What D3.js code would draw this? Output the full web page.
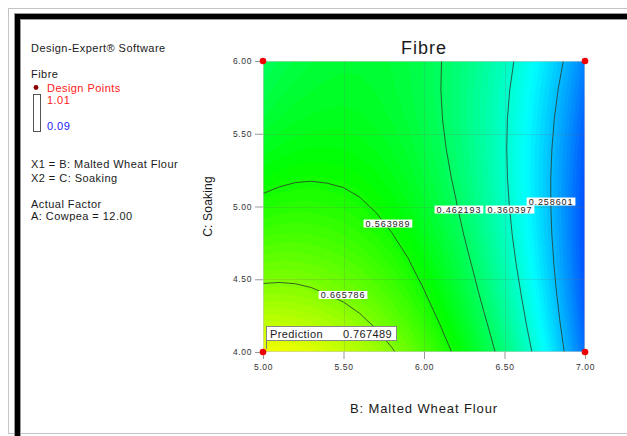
<!DOCTYPE html>
<html>
<head>
<meta charset="utf-8">
<script src="https://cdn.jsdelivr.net/npm/d3@7"></script>
<style>
  html, body { margin: 0; padding: 0; background: #fff; }
  svg { display: block; font-family: Arial, "Liberation Sans", sans-serif; }
</style>
</head>
<body>
<svg id="chart" width="627" height="436"></svg>
<script>
// ---- data -------------------------------------------------------------
// B: Malted Wheat Flour levels (grid columns)
const flour = [5.0, 5.1, 5.2, 5.3, 5.4, 5.5, 5.6, 5.7, 5.8, 5.9, 6.0,
               6.1, 6.2, 6.3, 6.4, 6.5, 6.6, 6.7, 6.8, 6.9, 7.0];
// C: Soaking levels (grid rows, bottom to top)
const soaking = [4.0, 4.2, 4.4, 4.6, 4.8, 5.0, 5.2, 5.4, 5.6, 5.8, 6.0];
// Predicted fibre over the grid, one row per soaking level (A: Cowpea = 12.00)
const fibreGrid = [
  [0.7686,0.7662,0.7609,0.7529,0.7420,0.7284,0.7120,0.6927,0.6707,0.6458,0.6182,0.5878,0.5545,0.5185,0.4796,0.4380,0.3936,0.3463,0.2963,0.2434,0.1878],
  [0.7223,0.7214,0.7178,0.7113,0.7021,0.6907,0.6765,0.6596,0.6398,0.6173,0.5912,0.5623,0.5307,0.4962,0.4590,0.4189,0.3760,0.3304,0.2819,0.2307,0.1766],
  [0.6789,0.6796,0.6775,0.6727,0.6650,0.6559,0.6440,0.6293,0.6119,0.5916,0.5671,0.5398,0.5097,0.4769,0.4412,0.4027,0.3614,0.3173,0.2705,0.2208,0.1683],
  [0.6419,0.6442,0.6437,0.6404,0.6343,0.6268,0.6165,0.6034,0.5875,0.5688,0.5459,0.5202,0.4917,0.4604,0.4263,0.3894,0.3497,0.3072,0.2619,0.2138,0.1629],
  [0.6077,0.6116,0.6127,0.6109,0.6064,0.6005,0.5918,0.5803,0.5659,0.5488,0.5275,0.5034,0.4765,0.4467,0.4142,0.3789,0.3408,0.2999,0.2561,0.2096,0.1603],
  [0.5765,0.5820,0.5846,0.5845,0.5815,0.5772,0.5701,0.5601,0.5474,0.5318,0.5121,0.4896,0.4642,0.4361,0.4051,0.3714,0.3349,0.2955,0.2534,0.2084,0.1607],
  [0.5482,0.5552,0.5595,0.5609,0.5596,0.5568,0.5512,0.5429,0.5317,0.5178,0.4996,0.4786,0.4549,0.4283,0.3990,0.3668,0.3318,0.2941,0.2535,0.2102,0.1640],
  [0.5227,0.5313,0.5371,0.5402,0.5404,0.5392,0.5352,0.5284,0.5189,0.5065,0.4899,0.4705,0.4483,0.4234,0.3956,0.3650,0.3316,0.2954,0.2565,0.2147,0.1701],
  [0.5001,0.5103,0.5177,0.5223,0.5241,0.5245,0.5221,0.5169,0.5089,0.4981,0.4831,0.4653,0.4447,0.4213,0.3951,0.3661,0.3343,0.2997,0.2623,0.2221,0.1791],
  [0.4826,0.4944,0.5034,0.5095,0.5129,0.5145,0.5133,0.5092,0.5023,0.4927,0.4793,0.4631,0.4441,0.4222,0.3976,0.3702,0.3400,0.3070,0.2711,0.2325,0.1911],
  [0.4672,0.4806,0.4911,0.4989,0.5038,0.5067,0.5068,0.5040,0.4985,0.4901,0.4783,0.4637,0.4462,0.4260,0.4029,0.3771,0.3485,0.3170,0.2828,0.2457,0.2059]
];
// contour levels drawn as lines
const contourLevels = [0.258601, 0.360397, 0.462193, 0.563989, 0.665786];
// response range of the colour legend
const fibreRange = [0.09, 1.01];
// axis ticks
const flourTicks = [5.00, 5.50, 6.00, 6.50, 7.00];
const soakingTicks = [4.00, 4.50, 5.00, 5.50, 6.00];
// design points [B, C]
const designPoints = [[5, 4], [7, 4], [5, 6], [7, 6]];
// flagged prediction
const predictionPoint = [5, 4];
const predictionValue = 0.767489;

// ---- layout -----------------------------------------------------------
const plot = { left: 263, right: 585, top: 61, bottom: 352 };
// where each contour label sits, in factor units [B, C]
const labelSpots = [[6.789, 5.034], [6.534, 4.979], [6.217, 4.979], [5.776, 4.883], [5.497, 4.392]];

const svg = d3.select("#chart");
const x = d3.scaleLinear().domain([5, 7]).range([plot.left, plot.right]);
const y = d3.scaleLinear().domain([4, 6]).range([plot.bottom, plot.top]);

// Design-Expert style rainbow: blue - cyan - green - yellow - red
const color = d3.scaleLinear()
  .domain(d3.range(5).map(i => fibreRange[0] + i * (fibreRange[1] - fibreRange[0]) / 4))
  .range(["#0000ff", "#00ffff", "#00ff00", "#ffff00", "#ff0000"]);

// ---- page frame -------------------------------------------------------
const frame = svg.append("g");
frame.append("rect").attr("x", 8.5).attr("y", 8.5).attr("width", 640).attr("height", 425)
  .attr("fill", "none").attr("stroke", "#c4c4c4").attr("stroke-width", 1);
frame.append("rect").attr("x", 14).attr("y", 13).attr("width", 620).attr("height", 7).attr("fill", "#9a9a9a");
frame.append("rect").attr("x", 14).attr("y", 13).attr("width", 7).attr("height", 430).attr("fill", "#9a9a9a");
frame.append("rect").attr("x", 15).attr("y", 14).attr("width", 620).attr("height", 5).attr("fill", "#000");
frame.append("rect").attr("x", 15).attr("y", 14).attr("width", 5).attr("height", 430).attr("fill", "#000");

// ---- side panel text --------------------------------------------------
const side = svg.append("g").attr("fill", "#1a1a1a").style("font-size", "11px").style("letter-spacing", "0.45px");
const sideText = (t, xx, yy, fill) => side.append("text").attr("x", xx).attr("y", yy).attr("fill", fill || null).text(t);
sideText("Design-Expert\u00AE Software", 31, 52);
sideText("Fibre", 31, 78);
side.append("circle").attr("cx", 36).attr("cy", 87.5).attr("r", 2.4).attr("fill", "#8b0000");
sideText("Design Points", 47, 92, "#ff2020");
side.append("rect").attr("x", 33.5).attr("y", 94.5).attr("width", 7).attr("height", 37)
  .attr("fill", "#fff").attr("stroke", "#555").attr("stroke-width", 1);
sideText(d3.format(".2f")(fibreRange[1]), 47, 104, "#ff2020");
sideText(d3.format(".2f")(fibreRange[0]), 47, 130, "#2020ff");
sideText("X1 = B: Malted Wheat Flour", 31, 168);
sideText("X2 = C: Soaking", 31, 182);
sideText("Actual Factor", 31, 208);
sideText("A: Cowpea = 12.00", 31, 220);

// ---- filled response surface -----------------------------------------
const nx = flour.length, ny = soaking.length;
const values = fibreGrid.flat();
// grid sample k sits at contour coordinate k + 0.5
const gx = d3.scaleLinear().domain([0.5, nx - 0.5]).range([x(flour[0]), x(flour[nx - 1])]);
const gy = d3.scaleLinear().domain([0.5, ny - 0.5]).range([y(soaking[0]), y(soaking[ny - 1])]);
const gridPath = d3.geoPath(d3.geoTransform({
  point(px, py) { this.stream.point(gx(px), gy(py)); }
}));

const defs = svg.append("defs");
defs.append("clipPath").attr("id", "plotClip").append("rect")
  .attr("x", plot.left).attr("y", plot.top)
  .attr("width", plot.right - plot.left).attr("height", plot.bottom - plot.top);

const field = svg.append("g").attr("clip-path", "url(#plotClip)");
const bandStep = 0.01;
const bandThresholds = d3.range(fibreRange[0], fibreRange[1], bandStep);
const bands = d3.contours().size([nx, ny]).thresholds(bandThresholds)(values);
field.selectAll("path.band").data(bands).join("path")
  .attr("class", "band")
  .attr("d", gridPath)
  .attr("fill", d => color(d.value + bandStep / 2))
  .attr("stroke", d => color(d.value + bandStep / 2))
  .attr("stroke-width", 0.6);

// grid lines at the inner ticks
const grid = svg.append("g").attr("stroke", "rgba(110,110,110,0.2)").attr("stroke-width", 1);
flourTicks.slice(1, -1).forEach(t => grid.append("line")
  .attr("x1", Math.round(x(t)) + 0.5).attr("x2", Math.round(x(t)) + 0.5)
  .attr("y1", plot.top).attr("y2", plot.bottom));
soakingTicks.slice(1, -1).forEach(t => grid.append("line")
  .attr("y1", Math.round(y(t)) + 0.5).attr("y2", Math.round(y(t)) + 0.5)
  .attr("x1", plot.left).attr("x2", plot.right));

// contour lines
const lines = d3.contours().size([nx, ny]).thresholds(contourLevels)(values);
field.selectAll("path.iso").data(lines).join("path")
  .attr("class", "iso")
  .attr("d", gridPath)
  .attr("fill", "none")
  .attr("stroke", "#2a3a2a")
  .attr("stroke-width", 0.8);

// plot outline
svg.append("rect").attr("x", plot.left + 0.5).attr("y", plot.top + 0.5)
  .attr("width", plot.right - plot.left - 1).attr("height", plot.bottom - plot.top - 1)
  .attr("fill", "none").attr("stroke", "rgba(200,200,200,0.6)").attr("stroke-width", 1);

// contour labels
const labels = svg.append("g").style("font-size", "9px").style("letter-spacing", "0.9px");
contourLevels.forEach((lv, i) => {
  const [b, c] = labelSpots[i];
  const g = labels.append("g").attr("transform", `translate(${x(b)},${y(c)})`);
  const t = g.append("text").attr("text-anchor", "middle").attr("dy", "0.35em")
    .attr("fill", "#222").text(d3.format(".6f")(lv));
  const w = t.node().getComputedTextLength();
  g.insert("rect", "text").attr("x", -w / 2 - 2).attr("y", -4).attr("width", w + 4).attr("height", 8)
    .attr("fill", "#fff");
});

// ---- axes -------------------------------------------------------------
const axisStyle = g => {
  g.select(".domain").remove();
  g.selectAll(".tick line").attr("stroke", "#999");
  g.selectAll(".tick text").attr("fill", "#333").style("font-size", "8.5px").style("letter-spacing", "0.6px");
};
svg.append("g").attr("transform", `translate(${plot.left},0)`)
  .call(d3.axisLeft(y).tickValues(soakingTicks).tickFormat(d3.format(".2f")).tickSize(8).tickPadding(3))
  .call(axisStyle);
svg.append("g").attr("transform", `translate(0,${plot.bottom})`)
  .call(d3.axisBottom(x).tickValues(flourTicks).tickFormat(d3.format(".2f")).tickSize(7).tickPadding(5))
  .call(axisStyle);

// axis titles and chart title
svg.append("text").attr("x", (plot.left + plot.right) / 2).attr("y", 413)
  .attr("text-anchor", "middle").attr("fill", "#1a1a1a")
  .style("font-size", "13px").style("letter-spacing", "0.9px").text("B: Malted Wheat Flour");
svg.append("text").attr("transform", `translate(212,${(plot.top + plot.bottom) / 2}) rotate(-90)`)
  .attr("text-anchor", "middle").attr("fill", "#1a1a1a")
  .style("font-size", "12px").style("letter-spacing", "0.2px").text("C: Soaking");
svg.append("text").attr("x", (plot.left + plot.right) / 2).attr("y", 54)
  .attr("text-anchor", "middle").attr("fill", "#1a1a1a")
  .style("font-size", "18px").style("letter-spacing", "1px").text("Fibre");

// ---- design points ----------------------------------------------------
svg.append("g").selectAll("circle").data(designPoints).join("circle")
  .attr("cx", d => x(d[0])).attr("cy", d => y(d[1])).attr("r", 3.3).attr("fill", "#f00000");

// ---- prediction flag --------------------------------------------------
const flag = svg.append("g");
const fx = x(predictionPoint[0]), fy = y(predictionPoint[1]);
flag.append("line").attr("x1", fx + 3.5).attr("x2", fx + 3.5).attr("y1", fy - 3).attr("y2", fy - 12)
  .attr("stroke", "#777");
flag.append("rect").attr("x", fx + 3.5).attr("y", fy - 25.5).attr("width", 130).attr("height", 14)
  .attr("fill", "#fff").attr("stroke", "#888");
flag.append("text").attr("x", fx + 7).attr("y", fy - 14.5).attr("fill", "#1a1a1a")
  .style("font-size", "11px").style("letter-spacing", "0.4px").text("Prediction");
flag.append("text").attr("x", fx + 80).attr("y", fy - 14.5).attr("fill", "#1a1a1a")
  .style("font-size", "11px").style("letter-spacing", "0.4px").text(d3.format(".6f")(predictionValue));
</script>
</body>
</html>
